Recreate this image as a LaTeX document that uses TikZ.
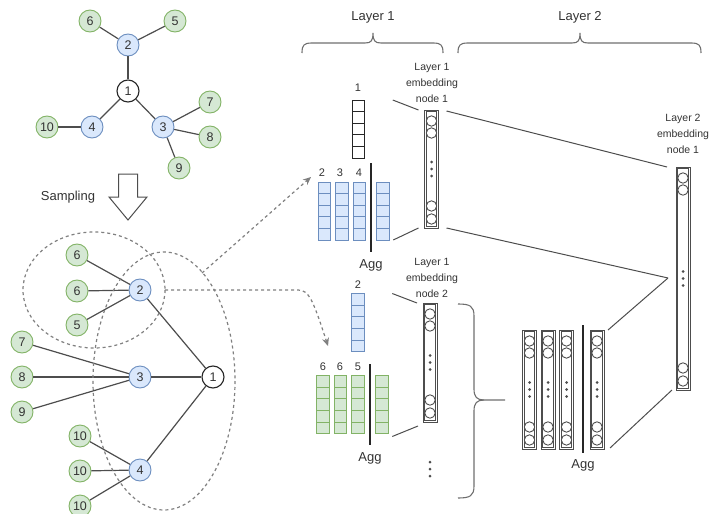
\documentclass[tikz,border=0pt]{standalone}
\usepackage{fontspec}
\setmainfont{Liberation Sans}
\usetikzlibrary{arrows.meta}

\definecolor{gfill}{HTML}{D5E8D4}
\definecolor{gdraw}{HTML}{82B366}
\definecolor{bfill}{HTML}{DAE8FC}
\definecolor{bdraw}{HTML}{6C8EBF}
\definecolor{edgec}{HTML}{4D4D4D}
\definecolor{textc}{HTML}{333333}
\definecolor{dashc}{HTML}{808080}
\definecolor{bracec}{HTML}{6E6E6E}

\tikzset{
  gnode/.style={circle, minimum size=22pt, inner sep=0pt, fill=gfill, draw=gdraw,
    line width=0.9pt, text=textc, font=\fontsize{12.5}{14}\selectfont},
  bnode/.style={gnode, fill=bfill, draw=bdraw},
  wnode/.style={gnode, fill=white, draw=black!85, line width=1.1pt},
  edge/.style={draw=edgec, line width=1.2pt},
  samp/.style={draw=dashc, line width=1.2pt, dash pattern=on 3pt off 3pt},
  samparrow/.style={samp, -{Stealth[length=8pt,width=7pt]}},
  link/.style={draw=edgec, line width=1pt},
  bracestyle/.style={draw=bracec, line width=1.1pt},
  cvecbox/.style={rectangle, minimum width=12.5pt, minimum height=58pt, inner sep=0pt,
    outer sep=0pt, line width=0.8pt},
  evecbox/.style={rectangle, minimum width=14pt, inner sep=0pt, outer sep=0pt,
    draw=edgec, line width=0.9pt},
  eline/.style={draw=edgec, line width=0.9pt},
  aggbar/.style={draw=black!85, line width=2.4pt},
  lbl/.style={text=textc, inner sep=0pt, font=\fontsize{11}{13}\selectfont},
  biglbl/.style={text=textc, inner sep=0pt, font=\fontsize{13}{15}\selectfont},
  emblbl/.style={text=textc, inner sep=0pt, align=center,
    font=\fontsize{10.5}{16}\selectfont},
}

% a five-cell feature vector: name, centre x, centre y, fill, line colour
\newcommand\cellvec[5]{%
  \node[cvecbox, fill=#4, draw=#5] (#1) at (#2,#3) {};
  \foreach \k in {1,2,3,4}
    \draw[#5, line width=0.8pt] ([yshift=-\k*11.6pt]#1.north west) -- ([yshift=-\k*11.6pt]#1.north east);
}

% an embedding vector with double border, circles and dots: name, centre x, top, bottom
\newcommand\embvec[4]{%
  \node[evecbox, minimum height={(#4-#3)*1pt}] (#1) at (#2,{(#3+#4)/2}) {};
  \draw[eline] ([shift={(1.8pt,-1.8pt)}]#1.north west) rectangle ([shift={(-1.8pt,1.8pt)}]#1.south east);
  \foreach \c in {#3+11, #3+23, #4-22, #4-9}
    \draw[eline, fill=white] (#2,\c) circle[radius=5.2];
  \foreach \d in {-7,0,7}
    \fill[edgec] (#2,{(#3+#4)/2+\d}) circle[radius=1.5];
}

% a horizontal curly brace opening downwards: left x, tip x, right x
\newcommand\topbrace[3]{%
  \draw[bracestyle] (#1,53) .. controls (#1,45) and (#1+2,43) .. (#1+10,43)
    -- (#2-8,43) .. controls (#2-2,43) and (#2,41) .. (#2,33)
    .. controls (#2,41) and (#2+2,43) .. (#2+8,43)
    -- (#3-10,43) .. controls (#3-2,43) and (#3,45) .. (#3,53);
}

\begin{document}
\begin{tikzpicture}[x=1pt,y=-1pt]
\useasboundingbox (0,0) rectangle (713,514);

%---------------- full graph ----------------
\node[wnode] (t1) at (128,91) {1};
\node[bnode] (t2) at (128,45) {2};
\node[bnode] (t3) at (163,127) {3};
\node[bnode] (t4) at (92,127) {4};
\node[gnode] (t5) at (175,21) {5};
\node[gnode] (t6) at (90,21) {6};
\node[gnode] (t7) at (210,102) {7};
\node[gnode] (t8) at (210,137) {8};
\node[gnode] (t9) at (179,168) {9};
\node[gnode] (t10) at (47,127) {10};
\foreach \a/\b in {t6/t2, t5/t2, t2/t1, t1/t4, t4/t10, t1/t3, t3/t7, t3/t8, t3/t9}
  \draw[edge] (\a) -- (\b);

% sampling arrow
\node[biglbl] (samplbl) at (68,197) {Sampling};
\draw[draw=edgec, fill=white, line width=1pt, line join=miter]
  (118.5,174) -- (137.5,174) -- (137.5,197) -- (147,197) -- (128,220)
  -- (109,197) -- (118.5,197) -- cycle;

%---------------- sampled tree ----------------
\node[wnode] (s1) at (213,377) {1};
\node[bnode] (s2) at (140,290) {2};
\node[bnode] (s3) at (140,377) {3};
\node[bnode] (s4) at (140,470) {4};
\node[gnode] (s6a) at (77,255) {6};
\node[gnode] (s6b) at (77,291) {6};
\node[gnode] (s5) at (77,325) {5};
\node[gnode] (s7) at (22,342) {7};
\node[gnode] (s8) at (22,377) {8};
\node[gnode] (s9) at (22,412) {9};
\node[gnode] (s10a) at (80,436) {10};
\node[gnode] (s10b) at (80,471) {10};
\node[gnode] (s10c) at (80,506) {10};
\foreach \a/\b in {s6a/s2, s6b/s2, s5/s2, s2/s1, s7/s3, s8/s3, s9/s3, s3/s1,
                   s10a/s4, s10b/s4, s10c/s4, s4/s1}
  \draw[edge] (\a) -- (\b);

% neighbourhoods
\draw[samp] (94,290) ellipse[x radius=71, y radius=58];
\draw[samp] (164,381) ellipse[x radius=71, y radius=129];

%---------------- layer 1, node 1 ----------------
\node[lbl] (l1) at (358,88) {1};
\cellvec{v1}{358.5}{129}{white}{black!85}
\node[lbl] (l2a) at (322,173) {2};
\node[lbl] (l3a) at (340,173) {3};
\node[lbl] (l4a) at (359,173) {4};
\cellvec{b2}{324.5}{211}{bfill}{bdraw}
\cellvec{b3}{342}{211}{bfill}{bdraw}
\cellvec{b4}{359.5}{211}{bfill}{bdraw}
\cellvec{b5}{383}{211}{bfill}{bdraw}
\draw[aggbar] (371,163) -- (371,252);
\node[biglbl] (agg1) at (371,265) {Agg};

\embvec{e1}{431.5}{110}{228}
\node[emblbl] (e1lbl) at (432,83) {Layer 1\\embedding\\node 1};
\draw[link] ([xshift=28pt]v1.north east) -- ([xshift=-6pt]e1.north west);
\draw[link] ([xshift=4pt]b5.south east) -- ([xshift=-6pt]e1.south west);

%---------------- layer 1, node 2 ----------------
\node[lbl] (l2b) at (358,285) {2};
\cellvec{v2}{358}{322.5}{bfill}{bdraw}
\node[lbl] (l6a) at (323,367) {6};
\node[lbl] (l6b) at (340,367) {6};
\node[lbl] (l5b) at (358,367) {5};
\cellvec{g1}{323}{404.5}{gfill}{gdraw}
\cellvec{g2}{340.5}{404.5}{gfill}{gdraw}
\cellvec{g3}{358}{404.5}{gfill}{gdraw}
\cellvec{g4}{382}{404.5}{gfill}{gdraw}
\draw[aggbar] (370,364) -- (370,445);
\node[biglbl] (agg2) at (370,458) {Agg};

\embvec{e2}{430}{303}{422}
\node[emblbl] (e2lbl) at (432,277.5) {Layer 1\\embedding\\node 2};
\draw[link] ([xshift=28pt]v2.north east) -- ([xshift=-6pt]e2.north west);
\draw[link] ([xshift=4pt,yshift=-3pt]g4.south east) -- ([xshift=-5pt,yshift=-4pt]e2.south west);
\foreach \d in {462,469,476}
  \fill[edgec] (430,\d) circle[radius=1.5];

% sampling arrows into layer 1
\coordinate (sa) at (202,273);
\coordinate (sat) at (311,177);
\coordinate (sb) at (165,290);
\coordinate (sbt) at (328,346);
\draw[samparrow] (sa) -- (sat);
\draw[samparrow] (sb) -- (298,290) .. controls (309,290) and (313,300) .. (sbt);

% grouping brace
\draw[bracestyle] (458,304) .. controls (470,304) and (474,306) .. (474,316)
  -- (474,389) .. controls (474,397) and (477,400) .. (484,400) -- (505,400);
\draw[bracestyle] (484,400) .. controls (477,400) and (474,403) .. (474,411)
  -- (474,486) .. controls (474,496) and (470,498) .. (458,498);

%---------------- layer 2 ----------------
\embvec{a1}{529.5}{330}{449}
\embvec{a2}{548}{330}{449}
\embvec{a3}{566.5}{330}{449}
\embvec{a4}{597}{330}{449}
\draw[aggbar] (583,325) -- (583,453);
\node[biglbl] (agg3) at (583,465) {Agg};

\embvec{l2v}{683}{167}{390}
\node[emblbl] (l2lbl) at (683,134) {Layer 2\\embedding\\node 1};

\coordinate (m2) at (668,278);
\draw[link] ([xshift=8pt,yshift=-1pt]e1.north east) -- ([xshift=-9pt]l2v.north west);
\draw[link] ([xshift=8pt]e1.south east) -- (m2);
\draw[link] ([xshift=4pt]a4.north east) -- (m2);
\draw[link] ([xshift=6pt,yshift=1pt]a4.south east) -- ([xshift=-4pt]l2v.south west);

%---------------- layer headings ----------------
\topbrace{302}{373}{443}
\topbrace{458}{580}{701}
\node[biglbl] (lay1) at (373,17) {Layer 1};
\node[biglbl] (lay2) at (580,17) {Layer 2};

\end{tikzpicture}
\end{document}
